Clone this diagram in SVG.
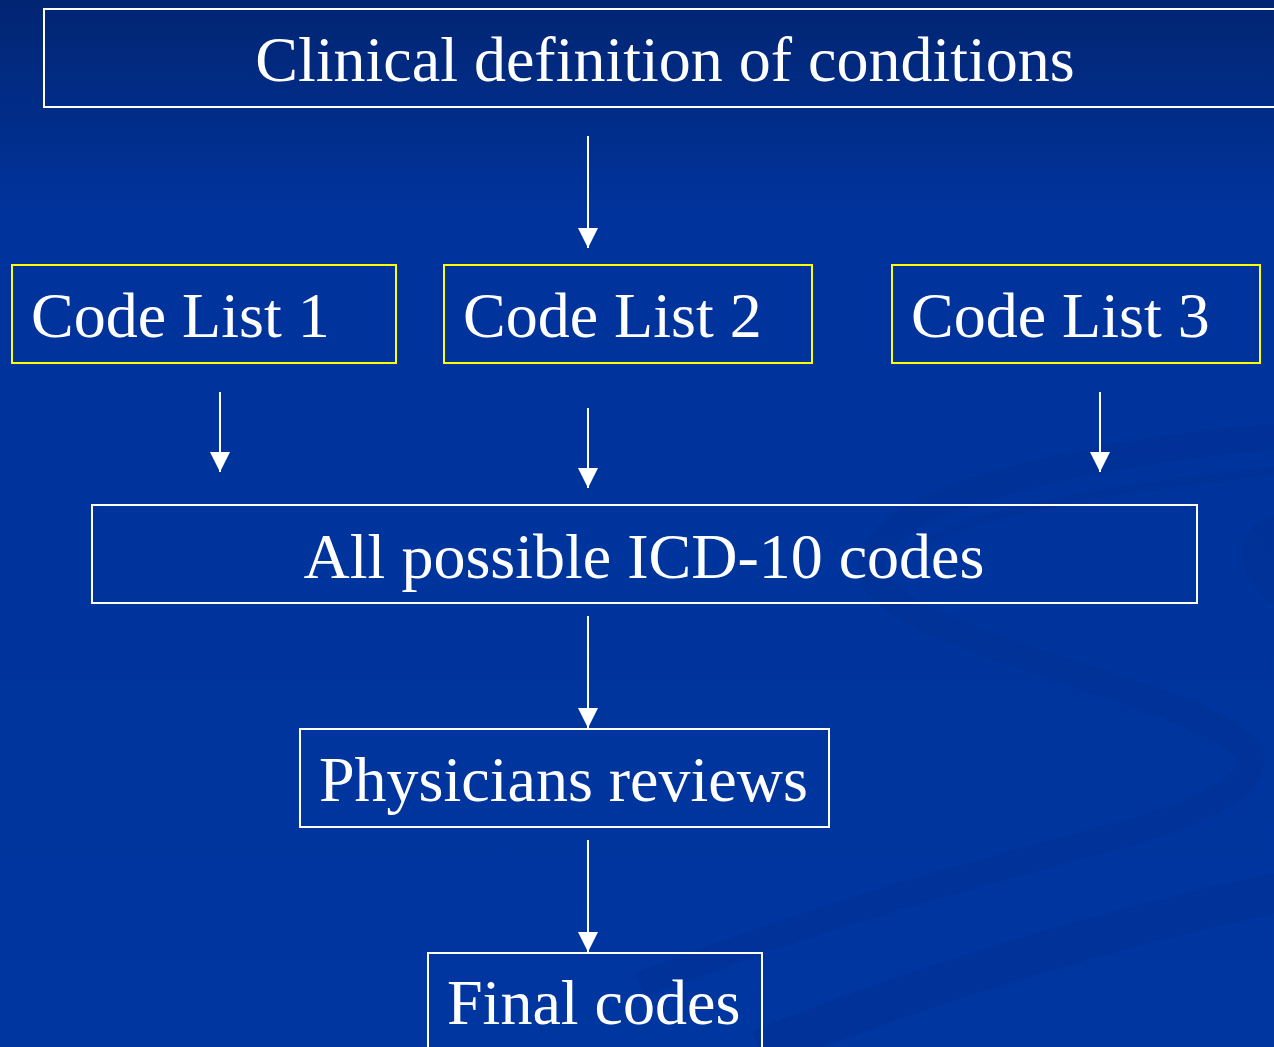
<svg xmlns="http://www.w3.org/2000/svg" width="1274" height="1047" viewBox="0 0 1274 1047">
  <defs>
    <linearGradient id="bg" x1="0" y1="0" x2="0" y2="1">
      <stop offset="0" stop-color="#022572"/>
      <stop offset="0.2" stop-color="#00339b"/>
      <stop offset="1" stop-color="#0036a0"/>
    </linearGradient>
    <marker id="ah" markerUnits="userSpaceOnUse" markerWidth="20" markerHeight="20" refX="20" refY="10" viewBox="0 0 20 20" orient="auto">
      <path d="M0,0 L20,10 L0,20 Z" fill="#ffffff"/>
    </marker>
    <style>
      .box { fill: none; stroke: #ffffff; stroke-width: 2; }
      .ybox { fill: none; stroke: #ffff00; stroke-width: 2; }
      .lbl { font-family: "Liberation Serif", "Times New Roman", serif; font-size: 64px; fill: #ffffff; }
      .conn { stroke: #ffffff; stroke-width: 2; fill: none; }
      .swoosh { fill: none; stroke: #002a8a; stroke-opacity: 0.3; }
    </style>
  </defs>

  <rect x="0" y="0" width="1274" height="1047" fill="url(#bg)"/>

  <g id="background-swooshes">
    <path class="swoosh" stroke-width="26" d="M1290,435 C1060,455 860,505 872,572 C885,635 1140,680 1230,735 C1290,772 1210,812 1110,838 C960,878 820,915 640,985"/>
    <path class="swoosh" stroke-width="8" d="M1290,470 C1080,490 900,525 890,575"/>
    <path class="swoosh" stroke-width="40" d="M1290,890 C1100,930 920,985 760,1050"/>
    <path d="M1274,515 C1235,525 1230,575 1274,605 Z" fill="#002a8a" fill-opacity="0.3"/>
  </g>

  <g id="connectors">
    <line class="conn" x1="588" y1="136" x2="588" y2="248" marker-end="url(#ah)"/>
    <line class="conn" x1="220" y1="392" x2="220" y2="472" marker-end="url(#ah)"/>
    <line class="conn" x1="588" y1="408" x2="588" y2="488" marker-end="url(#ah)"/>
    <line class="conn" x1="1100" y1="392" x2="1100" y2="472" marker-end="url(#ah)"/>
    <line class="conn" x1="588" y1="616" x2="588" y2="728" marker-end="url(#ah)"/>
    <line class="conn" x1="588" y1="840" x2="588" y2="952" marker-end="url(#ah)"/>
  </g>

  <g id="clinical-definition">
    <rect class="box" x="44" y="9" width="1250" height="98"/>
    <text class="lbl" x="665" y="81" text-anchor="middle">Clinical definition of conditions</text>
  </g>

  <g id="code-list-1">
    <rect class="ybox" x="12" y="265" width="384" height="98"/>
    <text class="lbl" x="31" y="337">Code List 1</text>
  </g>

  <g id="code-list-2">
    <rect class="ybox" x="444" y="265" width="368" height="98"/>
    <text class="lbl" x="463" y="337">Code List 2</text>
  </g>

  <g id="code-list-3">
    <rect class="ybox" x="892" y="265" width="368" height="98"/>
    <text class="lbl" x="911" y="337">Code List 3</text>
  </g>

  <g id="all-possible-codes">
    <rect class="box" x="92" y="505" width="1105" height="98"/>
    <text class="lbl" x="644" y="578" text-anchor="middle">All possible ICD-10 codes</text>
  </g>

  <g id="physicians-reviews">
    <rect class="box" x="300" y="729" width="529" height="98"/>
    <text class="lbl" x="319" y="801">Physicians reviews</text>
  </g>

  <g id="final-codes">
    <rect class="box" x="428" y="953" width="334" height="110"/>
    <text class="lbl" x="447" y="1024">Final codes</text>
  </g>
</svg>
